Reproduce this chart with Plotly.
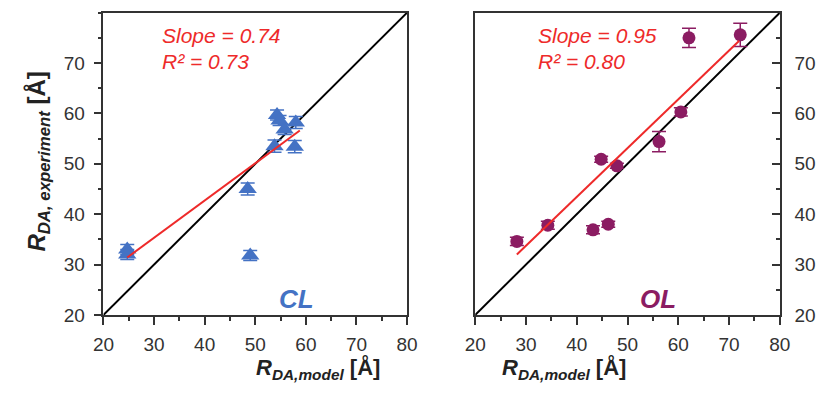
import plotly.graph_objects as go

# ---- data ----
cl_x = [24.7, 24.7, 48.5, 49.0, 53.8, 54.3, 54.8, 55.8, 58.0, 57.8]
cl_y = [33.0, 32.0, 45.0, 31.8, 53.5, 59.7, 58.6, 56.8, 58.2, 53.4]
cl_err = [1.0, 1.0, 1.2, 1.0, 1.2, 1.0, 1.0, 1.0, 1.2, 1.2]

ol_x = [28.2, 34.3, 43.2, 46.2, 44.8, 47.9, 56.2, 60.5, 62.1, 72.2]
ol_y = [34.6, 37.8, 36.9, 38.0, 50.9, 49.6, 54.4, 60.3, 75.0, 75.6]
ol_err = [0.8, 0.8, 0.8, 0.6, 0.6, 0.5, 2.0, 0.8, 1.9, 2.3]

cl_fit_x = [24.7, 58.8]
cl_fit_y = [31.4, 56.6]
ol_fit_x = [28.2, 72.0]
ol_fit_y = [32.0, 74.4]

diag = [20, 80]
xticks = [20, 30, 40, 50, 60, 70, 80]
yticks = [20, 30, 40, 50, 60, 70]

BLUE = "#4472C4"
PURPLE = "#8B1C62"
RED = "#EE2A2A"
FONT = "Arial, Liberation Sans, sans-serif"

fig = go.Figure()

# left panel
fig.add_trace(go.Scatter(x=diag, y=diag, mode="lines", line=dict(color="black", width=2),
                         xaxis="x", yaxis="y", showlegend=False))
fig.add_trace(go.Scatter(x=cl_x, y=cl_y, mode="markers",
                         marker=dict(symbol="triangle-up", size=16, color=BLUE),
                         error_y=dict(type="data", array=cl_err, color=BLUE, thickness=1.5, width=7),
                         xaxis="x", yaxis="y", showlegend=False))
fig.add_trace(go.Scatter(x=cl_fit_x, y=cl_fit_y, mode="lines", line=dict(color=RED, width=2),
                         xaxis="x", yaxis="y", showlegend=False))

# right panel
fig.add_trace(go.Scatter(x=diag, y=diag, mode="lines", line=dict(color="black", width=2),
                         xaxis="x2", yaxis="y2", showlegend=False))
fig.add_trace(go.Scatter(x=ol_x, y=ol_y, mode="markers",
                         marker=dict(symbol="circle", size=13, color=PURPLE),
                         error_y=dict(type="data", array=ol_err, color=PURPLE, thickness=1.5, width=7),
                         xaxis="x2", yaxis="y2", showlegend=False))
fig.add_trace(go.Scatter(x=ol_fit_x, y=ol_fit_y, mode="lines", line=dict(color=RED, width=2),
                         xaxis="x2", yaxis="y2", showlegend=False))

W, H = 822, 393
xd1 = [95 / W, 407 / W]
xd2 = [477 / W, 790 / W]
yd = [(H - 324) / H, (H - 13) / H]

common = dict(range=[20, 80], showline=True, linecolor="#333", linewidth=1.5,
              mirror=True, showgrid=False, zeroline=False,
              tickfont=dict(family=FONT, size=19, color="#333"),
              tickcolor="#333", tickwidth=1.5)
minor_out = dict(dtick=5, ticks="outside", ticklen=4, tickcolor="#333", tickwidth=1.5)
minor_in = dict(dtick=5, ticks="inside", ticklen=4, tickcolor="#333", tickwidth=1.5)

fig.update_layout(
    width=W, height=H, margin=dict(l=0, r=0, t=0, b=0),
    paper_bgcolor="white", plot_bgcolor="white",
    xaxis=dict(domain=xd1, anchor="y", ticks="outside", ticklen=8, tickvals=xticks,
               ticklabelstandoff=4, minor=minor_out, **common),
    yaxis=dict(domain=yd, anchor="x", ticks="outside", ticklen=8, tickvals=yticks,
               ticklabelstandoff=5, minor=minor_out, **common),
    xaxis2=dict(domain=xd2, anchor="y2", ticks="outside", ticklen=8, tickvals=xticks,
                ticklabelstandoff=4, minor=minor_out, **common),
    yaxis2=dict(domain=yd, anchor="x2", side="right", ticks="inside", ticklen=8, tickvals=yticks,
                ticklabelstandoff=9, minor=minor_in, **common),
)

ann = []
# slope / R2 texts
for xr, yr, sx, s, r in [("x", "y", 31.2, "0.74", "0.73"), ("x2", "y2", 31.9, "0.95", "0.80")]:
    ann.append(dict(x=sx, y=75.5, xref=xr, yref=yr, xanchor="left", yanchor="middle", showarrow=False,
                    text="<i>Slope = " + s + "</i>", font=dict(family=FONT, size=21, color=RED)))
    ann.append(dict(x=sx, y=70.3, xref=xr, yref=yr, xanchor="left", yanchor="middle", showarrow=False,
                    text="<i>R² = " + r + "</i>", font=dict(family=FONT, size=21, color=RED)))
ann.append(dict(x=58.1, y=23.2, xref="x", yref="y", showarrow=False, text="<b><i>CL</i></b>",
                font=dict(family=FONT, size=26, color=BLUE)))
ann.append(dict(x=56.0, y=23.2, xref="x2", yref="y2", showarrow=False, text="<b><i>OL</i></b>",
                font=dict(family=FONT, size=26, color=PURPLE)))

xtitle = "<b><i>R</i><sub><i>DA,model</i></sub> [Å]</b>"
ann.append(dict(x=251 / W, y=(H - 379) / H, xref="paper", yref="paper", showarrow=False, text=xtitle,
                font=dict(family=FONT, size=22, color="#222"), yanchor="middle", borderpad=0))
ann.append(dict(x=633 / W, y=(H - 379) / H, xref="paper", yref="paper", showarrow=False, text=xtitle,
                font=dict(family=FONT, size=22, color="#222"), yanchor="middle", borderpad=0))
ann.append(dict(x=28 / W, y=(H - 166) / H, xref="paper", yref="paper", showarrow=False, textangle=-90,
                text="<b><i>R</i><sub><i>DA, experiment</i></sub> [Å]</b>",
                font=dict(family=FONT, size=24, color="#222"), xanchor="center", yanchor="middle"))
fig.update_layout(annotations=ann)

fig.write_html("out.html")
